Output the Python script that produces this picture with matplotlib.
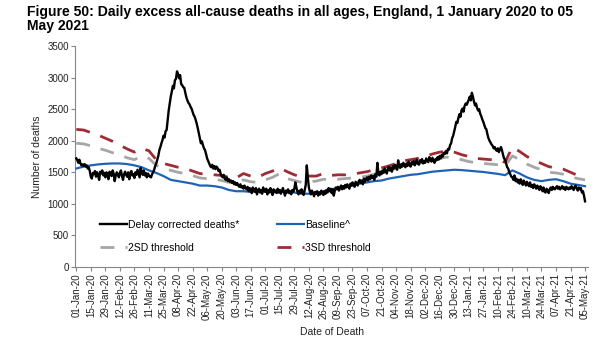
import numpy as np
import matplotlib.pyplot as plt
import matplotlib.dates as mdates

plt.rcParams['font.family'] = ['Liberation Sans', 'DejaVu Sans']

start = np.datetime64('2020-01-01')

# daily delay corrected deaths, 1 Jan 2020 - 5 May 2021 (two weeks per row)
deaths = [
    1720, 1690, 1650, 1700, 1640, 1610, 1625, 1600, 1630, 1590, 1610, 1560, 1580, 1520,
    1430, 1400, 1490, 1470, 1520, 1430, 1500, 1460, 1380, 1510, 1480, 1530, 1450, 1490,
    1420, 1500, 1460, 1390, 1510, 1470, 1440, 1530, 1480, 1360, 1450, 1500, 1470, 1420,
    1490, 1530, 1440, 1380, 1470, 1510, 1460, 1430, 1500, 1390, 1480, 1520, 1450, 1470,
    1410, 1500, 1460, 1540, 1480, 1420, 1570, 1500, 1460, 1530, 1450, 1490, 1420, 1480,
    1450, 1430, 1420, 1470, 1500, 1540, 1600, 1640, 1700, 1760, 1850, 1900, 1960, 2010,
    2080, 2050, 2150, 2170, 2330, 2480, 2590, 2700, 2780, 2870, 2830, 2960, 2980, 3100,
    3060, 2990, 3040, 2900, 2880, 2850, 2840, 2760, 2690, 2640, 2600, 2580, 2540, 2510,
    2460, 2410, 2380, 2330, 2270, 2200, 2120, 2040, 1960, 1990, 1930, 1880, 1850, 1790,
    1720, 1680, 1640, 1600, 1580, 1620, 1560, 1600, 1550, 1590, 1570, 1520, 1540, 1480,
    1440, 1420, 1460, 1400, 1380, 1420, 1360, 1390, 1350, 1370, 1330, 1360, 1310, 1340,
    1300, 1330, 1290, 1270, 1310, 1260, 1280, 1240, 1290, 1250, 1230, 1270, 1200, 1250,
    1230, 1170, 1260, 1220, 1190, 1250, 1150, 1210, 1240, 1180, 1220, 1160, 1260, 1200,
    1190, 1240, 1150, 1220, 1180, 1250, 1200, 1140, 1230, 1190, 1210, 1170, 1240, 1180,
    1220, 1160, 1200, 1250, 1190, 1130, 1210, 1180, 1230, 1170, 1200, 1150, 1220, 1190,
    1240, 1340, 1260, 1190, 1150, 1210, 1170, 1230, 1180, 1140, 1220, 1300, 1610, 1420,
    1260, 1190, 1150, 1210, 1170, 1120, 1190, 1160, 1200, 1130, 1180, 1150, 1210, 1170,
    1140, 1200, 1160, 1220, 1180, 1250, 1200, 1240, 1170, 1230, 1130, 1210, 1260, 1230,
    1270, 1210, 1250, 1290, 1230, 1280, 1240, 1300, 1260, 1310, 1270, 1240, 1320, 1290,
    1340, 1300, 1270, 1350, 1320, 1290, 1360, 1380, 1330, 1370, 1310, 1400, 1350, 1390,
    1420, 1370, 1430, 1390, 1450, 1410, 1440, 1380, 1470, 1430, 1650, 1480, 1450, 1510,
    1470, 1530, 1490, 1560, 1520, 1480, 1550, 1590, 1530, 1570, 1510, 1600, 1560, 1620,
    1580, 1540, 1690, 1600, 1570, 1630, 1590, 1650, 1610, 1580, 1640, 1600, 1670, 1620,
    1590, 1660, 1630, 1680, 1610, 1650, 1700, 1640, 1620, 1690, 1660, 1710, 1640, 1680,
    1650, 1720, 1690, 1660, 1740, 1700, 1670, 1730, 1680, 1650, 1710, 1690, 1740, 1700,
    1760, 1720, 1780, 1750, 1810, 1790, 1840, 1800, 1870, 1860, 1930, 1960, 2040, 2080,
    2150, 2220, 2300, 2280, 2360, 2420, 2380, 2480, 2510, 2460, 2550, 2590, 2570, 2610,
    2650, 2700, 2640, 2760, 2700, 2620, 2560, 2590, 2520, 2480, 2500, 2430, 2390, 2340,
    2300, 2250, 2200, 2180, 2100, 2040, 2000, 1970, 1940, 1920, 1880, 1900, 1860, 1840,
    1880, 1820, 1860, 1900, 1850, 1780, 1720, 1700, 1640, 1580, 1560, 1500, 1470, 1430,
    1420, 1380, 1450, 1360, 1400, 1340, 1380, 1320, 1390, 1350, 1300, 1370, 1330, 1290,
    1350, 1310, 1280, 1340, 1270, 1300, 1250, 1310, 1280, 1240, 1290, 1260, 1220, 1280,
    1250, 1200, 1260, 1190, 1180, 1240, 1210, 1170, 1230, 1260, 1220, 1270, 1240, 1230,
    1260, 1280, 1240, 1270, 1230, 1250, 1280, 1240, 1260, 1220, 1270, 1250, 1230, 1260,
    1240, 1280, 1250, 1220, 1270, 1290, 1240, 1210, 1260, 1230, 1250, 1180, 1200, 1130,
    1040,
]

# weekly values (every 7th day from 1 Jan 2020)
baseline = [
    1560, 1590, 1610, 1625, 1635, 1640, 1640, 1630, 1610, 1580, 1530, 1490, 1440, 1380,
    1360, 1340, 1320, 1290, 1290, 1280, 1260, 1220, 1200, 1200, 1190, 1200, 1200, 1180,
    1190, 1190, 1180, 1160, 1160, 1170, 1200, 1230, 1250, 1270, 1290, 1320, 1340, 1360,
    1370, 1400, 1420, 1440, 1460, 1470, 1490, 1510, 1520, 1530, 1540, 1535, 1525, 1515,
    1505, 1490, 1475, 1455, 1530, 1480, 1420, 1380, 1360, 1380, 1390, 1360, 1320, 1300,
    1280,
]
sd2 = [
    1960, 1950, 1920, 1880, 1850, 1810, 1770, 1730, 1700, 1760, 1720, 1610, 1560, 1530,
    1500, 1480, 1450, 1410, 1400, 1390, 1370, 1340, 1330, 1380, 1350, 1340, 1380, 1420,
    1480, 1400, 1370, 1340, 1350, 1360, 1390, 1380, 1390, 1400, 1410, 1420, 1440, 1470,
    1500, 1530, 1560, 1590, 1620, 1640, 1660, 1690, 1720, 1740, 1730, 1700, 1670, 1650,
    1640, 1630, 1620, 1600, 1760, 1700, 1630, 1580, 1540, 1500, 1490, 1470, 1430, 1400,
    1380,
]
sd3 = [
    2180, 2170, 2130, 2090, 2040, 1990, 1930, 1870, 1820, 1880, 1840, 1700, 1640, 1610,
    1580, 1560, 1520, 1480, 1470, 1460, 1450, 1420, 1410, 1480, 1440, 1420, 1480, 1520,
    1570, 1510, 1460, 1430, 1440, 1440, 1480, 1450, 1460, 1460, 1470, 1490, 1510, 1540,
    1570, 1600, 1640, 1680, 1700, 1720, 1750, 1790, 1820, 1840, 1820, 1780, 1750, 1720,
    1710, 1700, 1690, 1660, 1900, 1830, 1750, 1690, 1640, 1590, 1570, 1550, 1500, 1450,
    1420,
]

daily = start + np.arange(len(deaths))
weekly = start + np.arange(0, 7 * len(baseline), 7)

fig = plt.figure(figsize=(6.02, 3.44), dpi=100)
ax = fig.add_axes([0.125, 0.224, 0.852, 0.642])

ax.plot(weekly, sd2, color='#a6a6a6', lw=2, dashes=(5, 4), label='2SD threshold', zorder=2)
ax.plot(weekly, sd3, color='#a02b35', lw=2, dashes=(5, 4), label='3SD threshold', zorder=2)
ax.plot(weekly, baseline, color='#1f63b5', lw=1.6, label='Baseline^', zorder=3)
ax.plot(daily, deaths, color='black', lw=1.7, label='Delay corrected deaths*', zorder=4)

ax.set_ylim(0, 3500)
ax.set_yticks(np.arange(0, 3501, 500))
ax.set_xlim(start - np.timedelta64(1, 'D'), start + np.timedelta64(493, 'D'))
ticks = start + np.arange(0, 491, 14)
ax.set_xticks(ticks)
ax.xaxis.set_major_formatter(mdates.DateFormatter('%d-%b-%y'))
plt.setp(ax.get_xticklabels(), rotation=90)

for side in ('top', 'right'):
    ax.spines[side].set_visible(False)
for side in ('left', 'bottom'):
    ax.spines[side].set_color('#868686')
    ax.spines[side].set_linewidth(0.8)
ax.tick_params(axis='both', labelsize=7, color='#868686', length=3, width=0.8,
               pad=1.5, labelcolor='#222222')

ax.set_ylabel('Number of deaths', fontsize=7.5, color='#222222', labelpad=4)
ax.set_xlabel('Date of Death', fontsize=7.5, color='#222222', labelpad=5)

# two columns filled top to bottom: deaths / 2SD, baseline / 3SD
handles, labels = ax.get_legend_handles_labels()
order = [3, 0, 2, 1]
ax.legend([handles[i] for i in order], [labels[i] for i in order],
          loc='upper left', bbox_to_anchor=(0.03, 0.255), ncol=2, frameon=False,
          fontsize=7.5, handlelength=2.6, handletextpad=0.1, columnspacing=3.6,
          labelspacing=1.25)

fig.text(0.045, 0.985, 'Figure 50: Daily excess all-cause deaths in all ages, England, 1 January 2020 to 05\nMay 2021',
         fontsize=10.1, fontweight='bold', va='top', ha='left', linespacing=1.0)

fig.savefig('out.png', dpi=100)
